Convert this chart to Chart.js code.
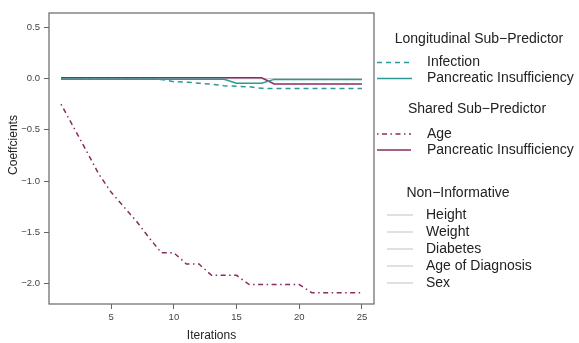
<!DOCTYPE html>
<html>
<head>
<meta charset="utf-8">
<script src="https://cdn.jsdelivr.net/npm/chart.js@4.4.1/dist/chart.umd.min.js"></script>
<style>
  html, body { margin: 0; padding: 0; background: #fff; }
  #wrap { width: 579px; height: 343px; }
</style>
</head>
<body>
<div id="wrap"><canvas id="coef-chart" width="579" height="343"></canvas></div>
<script>
// data
const iterations = [1, 2, 3, 4, 5, 6, 7, 8, 9, 10, 11, 12, 13, 14, 15, 16, 17, 18, 19, 20, 21, 22, 23, 24, 25];
const infectionLong = [-0.006, -0.006, -0.006, -0.006, -0.006, -0.006, -0.006, -0.006, -0.008, -0.03, -0.035, -0.045, -0.055, -0.07, -0.075, -0.08, -0.095, -0.098, -0.098, -0.098, -0.098, -0.098, -0.098, -0.098, -0.098];
const pancreaticLong = [-0.006, -0.006, -0.006, -0.006, -0.006, -0.006, -0.006, -0.006, -0.006, -0.006, -0.006, -0.006, -0.006, -0.006, -0.045, -0.045, -0.045, -0.008, -0.008, -0.008, -0.008, -0.008, -0.008, -0.008, -0.008];
const ageShared = [-0.25, -0.475, -0.70, -0.93, -1.11, -1.25, -1.39, -1.55, -1.70, -1.70, -1.81, -1.81, -1.92, -1.92, -1.92, -2.01, -2.01, -2.01, -2.01, -2.01, -2.09, -2.09, -2.09, -2.09, -2.09];
const pancreaticShared = [0.007, 0.007, 0.007, 0.007, 0.007, 0.007, 0.007, 0.007, 0.007, 0.007, 0.007, 0.007, 0.007, 0.007, 0.007, 0.007, 0.007, -0.052, -0.052, -0.052, -0.052, -0.052, -0.052, -0.052, -0.052];
const nonInformative = [0, 0, 0, 0, 0, 0, 0, 0, 0, 0, 0, 0, 0, 0, 0, 0, 0, 0, 0, 0, 0, 0, 0, 0, 0];
const nonInfoLabels = ['Height', 'Weight', 'Diabetes', 'Age of Diagnosis', 'Sex'];
const xTicks = [5, 10, 15, 20, 25];
const yTicks = [-2, -1.5, -1, -0.5, 0, 0.5];

const teal = '#2b9a94';
const plum = '#8a2d60';
const grey = '#d0d0d0';

function toPoints(values) {
  return values.map(function(v, i){ return { x: iterations[i], y: v } })
}

const datasets = [
  { label: 'Infection', group: 0, data: toPoints(infectionLong), borderColor: teal, borderWidth: 1.5, borderDash: [5, 4], order: 1 },
  { label: 'Pancreatic Insufficiency', group: 0, data: toPoints(pancreaticLong), borderColor: teal, borderWidth: 1.5, order: 1 },
  { label: 'Age', group: 1, data: toPoints(ageShared), borderColor: plum, borderWidth: 1.5, borderDash: [1.5, 3.5, 5, 3.5], order: 1 },
  { label: 'Pancreatic Insufficiency', group: 1, data: toPoints(pancreaticShared), borderColor: plum, borderWidth: 1.5, order: 1 }
];
nonInfoLabels.forEach(function(name){
  datasets.push({ label: name, group: 2, data: toPoints(nonInformative), borderColor: grey, borderWidth: 1, order: 5 })
})
datasets.forEach(function(d){
  d.pointRadius = 0
  d.fill = false
  d.tension = 0
})

// box around the plot, y title and the grouped legend
const extras = {
  id: 'extras',
  afterDraw: function(chart){
    const ctx = chart.ctx
    const a = chart.chartArea
    ctx.save()
    ctx.strokeStyle = '#666'
    ctx.lineWidth = 1.2
    ctx.strokeRect(a.left, a.top, a.right - a.left, a.bottom - a.top)

    ctx.fillStyle = '#222'
    ctx.font = '12px "Liberation Sans", Arial, sans-serif'
    ctx.textAlign = 'center'
    ctx.textBaseline = 'middle'
    ctx.translate(14, 145)
    ctx.rotate(-Math.PI / 2)
    ctx.fillText('Coeffcients', 0, 0)
    ctx.restore()

    const groups = [
      { title: 'Longitudinal Sub\u2212Predictor', tx: 479, ty: 39, y0: 62.5, x0: 377, x1: 412, textX: 427 },
      { title: 'Shared Sub\u2212Predictor', tx: 477, ty: 109, y0: 134, x0: 377, x1: 411, textX: 427 },
      { title: 'Non\u2212Informative', tx: 458, ty: 193, y0: 215, x0: 387, x1: 413, textX: 426 }
    ]
    const step = 17
    ctx.save()
    ctx.font = '14px "Liberation Sans", Arial, sans-serif'
    ctx.textBaseline = 'middle'
    groups.forEach(function(g, gi){
      ctx.fillStyle = '#222'
      ctx.textAlign = 'center'
      ctx.fillText(g.title, g.tx, g.ty)
      let row = 0
      chart.data.datasets.forEach(function(d){
        if (d.group !== gi) return
        const y = g.y0 + row * (gi === 2 ? step : 16)
        ctx.strokeStyle = d.borderColor
        ctx.lineWidth = 1.3
        ctx.setLineDash(d.borderDash || [])
        ctx.beginPath()
        ctx.moveTo(g.x0, y)
        ctx.lineTo(g.x1, y)
        ctx.stroke()
        ctx.setLineDash([])
        ctx.fillStyle = '#222'
        ctx.textAlign = 'left'
        ctx.fillText(d.label, g.textX, y)
        row++
      })
    })
    ctx.restore()
  }
}

new Chart(document.getElementById('coef-chart'), {
  type: 'line',
  data: { datasets: datasets },
  options: {
    responsive: false,
    animation: false,
    layout: { padding: { left: 0, top: 13, right: 205, bottom: 0 } },
    plugins: { legend: { display: false }, tooltip: { enabled: false } },
    scales: {
      x: {
        type: 'linear',
        min: 0.04,
        max: 25.96,
        afterBuildTicks: function(s){ s.ticks = xTicks.map(function(v){ return { value: v } }) },
        afterFit: function(s){ s.height = 39 },
        grid: { drawOnChartArea: false, drawTicks: true, tickLength: 5, color: '#666' },
        border: { display: false },
        ticks: { padding: 3, color: '#444', font: { size: 9.5, family: '"Liberation Sans", Arial, sans-serif' } },
        title: { display: true, text: 'Iterations', color: '#222', padding: 0, font: { size: 12, family: '"Liberation Sans", Arial, sans-serif' } }
      },
      y: {
        type: 'linear',
        min: -2.2,
        max: 0.64,
        afterBuildTicks: function(s){ s.ticks = yTicks.map(function(v){ return { value: v } }) },
        afterFit: function(s){ s.width = 49 },
        grid: { drawOnChartArea: false, drawTicks: true, tickLength: 5, color: '#666' },
        border: { display: false },
        ticks: {
          padding: 4,
          color: '#444',
          font: { size: 9.5, family: '"Liberation Sans", Arial, sans-serif' },
          callback: function(v){ return (v < 0 ? '\u2212' : '') + Math.abs(v).toFixed(1) }
        }
      }
    }
  },
  plugins: [extras]
});
</script>
</body>
</html>
